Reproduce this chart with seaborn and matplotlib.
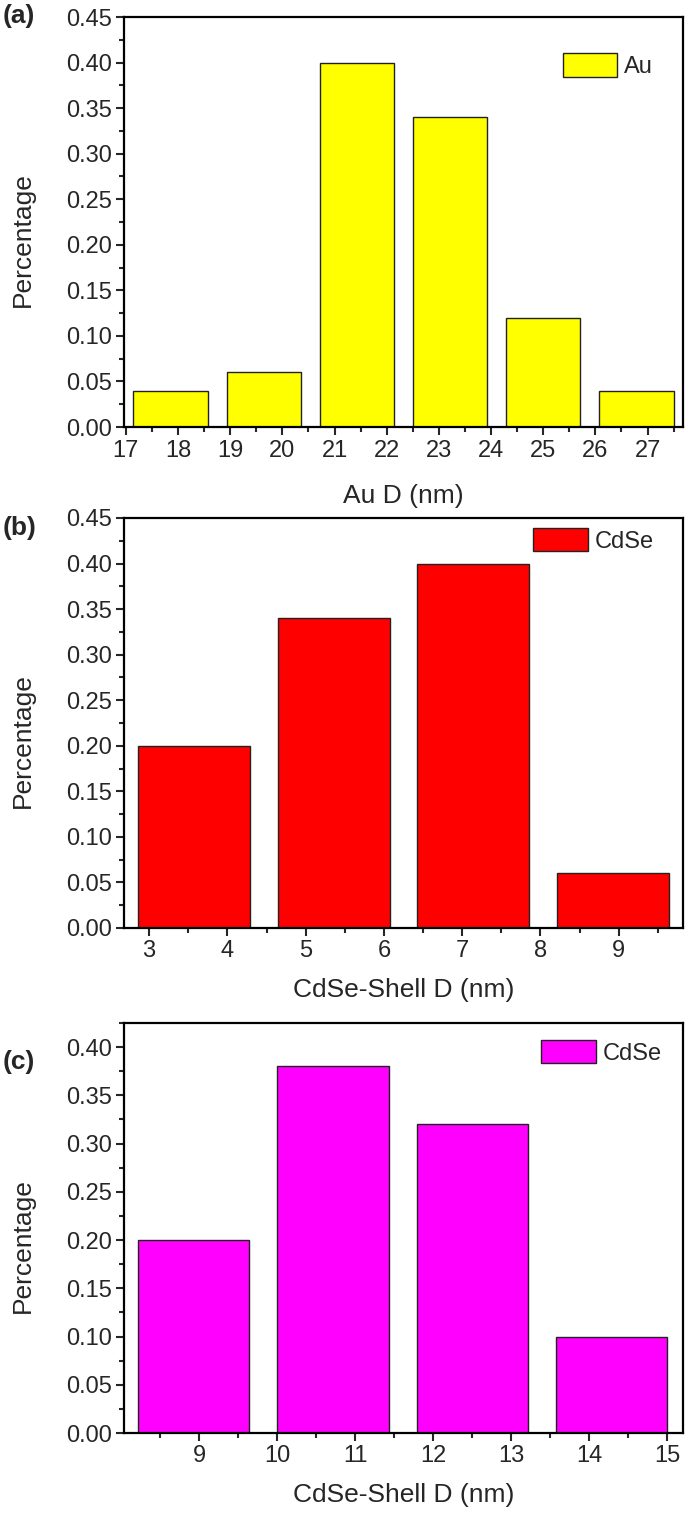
import matplotlib
matplotlib.use('Agg')
import matplotlib.pyplot as plt
import seaborn as sns
import pandas as pd
from matplotlib.ticker import MultipleLocator, FormatStrFormatter

# panel (a): Au core size distribution
au_d = [17.857, 19.643, 21.429, 23.214, 25.0, 26.786]
au_pct = [0.04, 0.06, 0.40, 0.34, 0.12, 0.04]

# panel (b): CdSe shell size distribution
cdse_b_d = [3.571, 5.357, 7.143, 8.929]
cdse_b_pct = [0.20, 0.34, 0.40, 0.06]

# panel (c): CdSe shell size distribution
cdse_c_d = [8.929, 10.714, 12.5, 14.286]
cdse_c_pct = [0.20, 0.38, 0.32, 0.10]

sns.set_style('ticks')
plt.rcParams['font.family'] = ['Liberation Sans', 'DejaVu Sans']

W, H = 685, 1518
fig = plt.figure(figsize=(W / 100, H / 100), dpi=100)

panels = [
    dict(x=au_d, y=au_pct, color='#ffff00', label='Au', xlabel='Au D (nm)',
         xlim=(16.964, 27.679), ylim=(0, 0.45), xt=range(17, 28),
         top=17, tag='(a)', tag_y=16, leg=(0.946, 0.912), xl=-0.14),
    dict(x=cdse_b_d, y=cdse_b_pct, color='#ff0000', label='CdSe', xlabel='CdSe-Shell D (nm)',
         xlim=(2.679, 9.821), ylim=(0, 0.45), xt=range(3, 10),
         top=518, tag='(b)', tag_y=528, leg=(0.948, 0.976), xl=-0.122),
    dict(x=cdse_c_d, y=cdse_c_pct, color='#ff00ff', label='CdSe', xlabel='CdSe-Shell D (nm)',
         xlim=(8.036, 15.2), ylim=(0, 0.425), xt=range(9, 16),
         top=1023, tag='(c)', tag_y=1062, leg=(0.962, 0.959), xl=-0.122),
]

left, right, h = 124, 683, 410
for p in panels:
    ax = fig.add_axes([left / W, 1 - (p['top'] + h) / H, (right - left) / W, h / H])
    df = pd.DataFrame({'d': p['x'], 'pct': p['y']})
    sns.barplot(data=df, x='d', y='pct', native_scale=True, color=p['color'],
                saturation=1, edgecolor='#222222', linewidth=1.0, width=0.8,
                label=p['label'], ax=ax)
    ax.set_xlim(*p['xlim'])
    ax.set_ylim(*p['ylim'])
    ax.set_xticks(list(p['xt']))
    ax.xaxis.set_minor_locator(MultipleLocator(0.5))
    ax.yaxis.set_major_locator(MultipleLocator(0.05))
    ax.yaxis.set_minor_locator(MultipleLocator(0.025))
    ax.yaxis.set_major_formatter(FormatStrFormatter('%.2f'))
    ax.tick_params(which='major', direction='out', length=6, width=1.5,
                   labelsize=17, pad=3, top=False, right=False)
    ax.tick_params(which='minor', direction='out', length=3.5, width=1.5,
                   top=False, right=False)
    for s in ax.spines.values():
        s.set_linewidth(1.6)
        s.set_color('black')
    ax.set_xlabel(p['xlabel'], fontsize=19)
    ax.set_ylabel('Percentage', fontsize=19)
    ax.xaxis.set_label_coords(0.5, p['xl'])
    ax.yaxis.set_label_coords(-0.159, 0.456)
    ax.legend(loc='upper right', bbox_to_anchor=p['leg'], frameon=False,
              fontsize=17, handlelength=2.3, handleheight=1.15,
              handletextpad=0.3, borderpad=0, borderaxespad=0)
    fig.text(3 / W, 1 - p['tag_y'] / H, p['tag'], fontsize=19, fontweight='bold',
             ha='left', va='center')

fig.savefig('out.png', dpi=100)
